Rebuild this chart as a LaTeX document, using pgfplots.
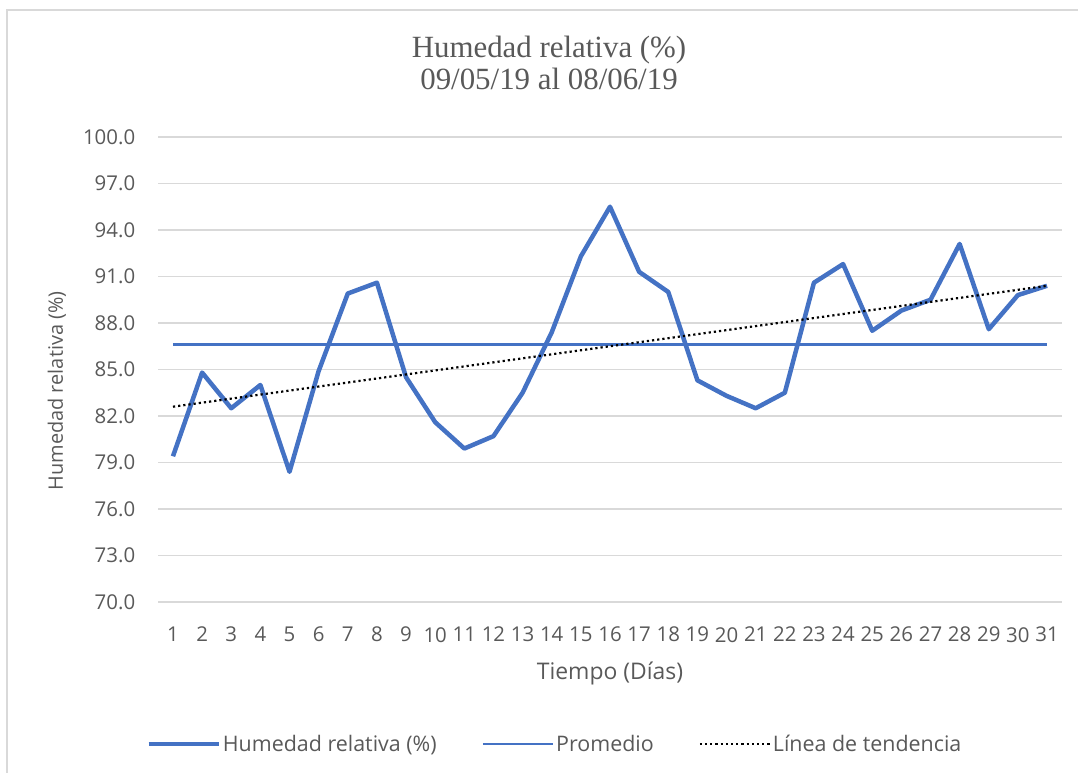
\documentclass[border=0pt]{standalone}
\usepackage{fontspec}
\setmainfont{Open Sans}
\newfontfamily\titlefont{Liberation Serif}
\usepackage{pgfplots}
\pgfplotsset{compat=1.18}
\definecolor{hblue}{HTML}{4472C4}
\definecolor{tgray}{HTML}{595959}
\definecolor{ggray}{HTML}{D9D9D9}
\begin{document}
\begin{tikzpicture}[x=1bp,y=1bp]
\path[use as bounding box] (0,0) rectangle (1078,773);
\draw[ggray, line width=1.3bp] (7,-20) rectangle (1100,763);
\node[anchor=base, font=\titlefont\fontsize{31}{36}\selectfont, text=tgray] at (549,715) {Humedad relativa (\%)};
\node[anchor=base, font=\titlefont\fontsize{31}{36}\selectfont, text=tgray] at (549,683) {09/05/19 al 08/06/19};
\begin{axis}[
  at={(158.4bp,171bp)}, anchor=south west,
  scale only axis, width=903.2bp, height=465bp,
  xmin=0.5, xmax=31.5, ymin=70, ymax=100,
  ytick={70,73,76,79,82,85,88,91,94,97,100},
  xtick={1,2,...,31},
  /pgf/number format/assume math mode=true,
  yticklabel style={/pgf/number format/.cd, fixed, fixed zerofill, precision=1, /tikz/.cd},
  ymajorgrids, grid style={ggray, line width=1.3bp},
  major tick length=0pt,
  axis line style={draw=none},
  tick label style={text=tgray, font=\fontsize{20.5}{24}\selectfont, inner sep=0pt},
  yticklabel style={anchor=east, xshift=-23bp},
  xticklabel style={anchor=north, yshift=-25bp},
  xlabel={Tiempo (Días)},
  ylabel={Humedad relativa (\%)},
  label style={text=tgray},
  xlabel style={font=\fontsize{23}{27}\selectfont, at={(axis description cs:0.5,0)}, anchor=center, yshift=-71bp},
  ylabel style={font=\fontsize{20}{24}\selectfont, at={(axis description cs:0,0.454)}, anchor=center, yshift=101.4bp},
  legend columns=3,
  legend style={at={(axis description cs:0.439,-0.305)}, anchor=center, draw=none, fill=none,
    font=\fontsize{21.5}{25}\selectfont, text=tgray,
    /tikz/every even column/.append style={column sep=43bp}},
  legend image code/.code={\draw[#1] (0bp,0bp) -- (70bp,0bp);},
]
\addplot[hblue, line width=4.5bp, line join=round] coordinates {
(1,79.4) (2,84.8) (3,82.5) (4,84.0) (5,78.4) (6,84.9) (7,89.9) (8,90.6)
(9,84.5) (10,81.6) (11,79.9) (12,80.7) (13,83.5) (14,87.4) (15,92.3) (16,95.5)
(17,91.3) (18,90.0) (19,84.3) (20,83.3) (21,82.5) (22,83.5) (23,90.6) (24,91.8)
(25,87.5) (26,88.8) (27,89.5) (28,93.1) (29,87.6) (30,89.8) (31,90.4)};
\addlegendentry{Humedad relativa (\%)}
\addplot[hblue, line width=2.5bp] coordinates {(1,86.6) (31,86.6)};
\addlegendentry{Promedio}
\addplot[black, line width=2.2bp, dash pattern=on 2.2bp off 3bp] coordinates {(1,82.6) (31,90.4)};
\addlegendentry{Línea de tendencia}
\end{axis}
\end{tikzpicture}
\end{document}
